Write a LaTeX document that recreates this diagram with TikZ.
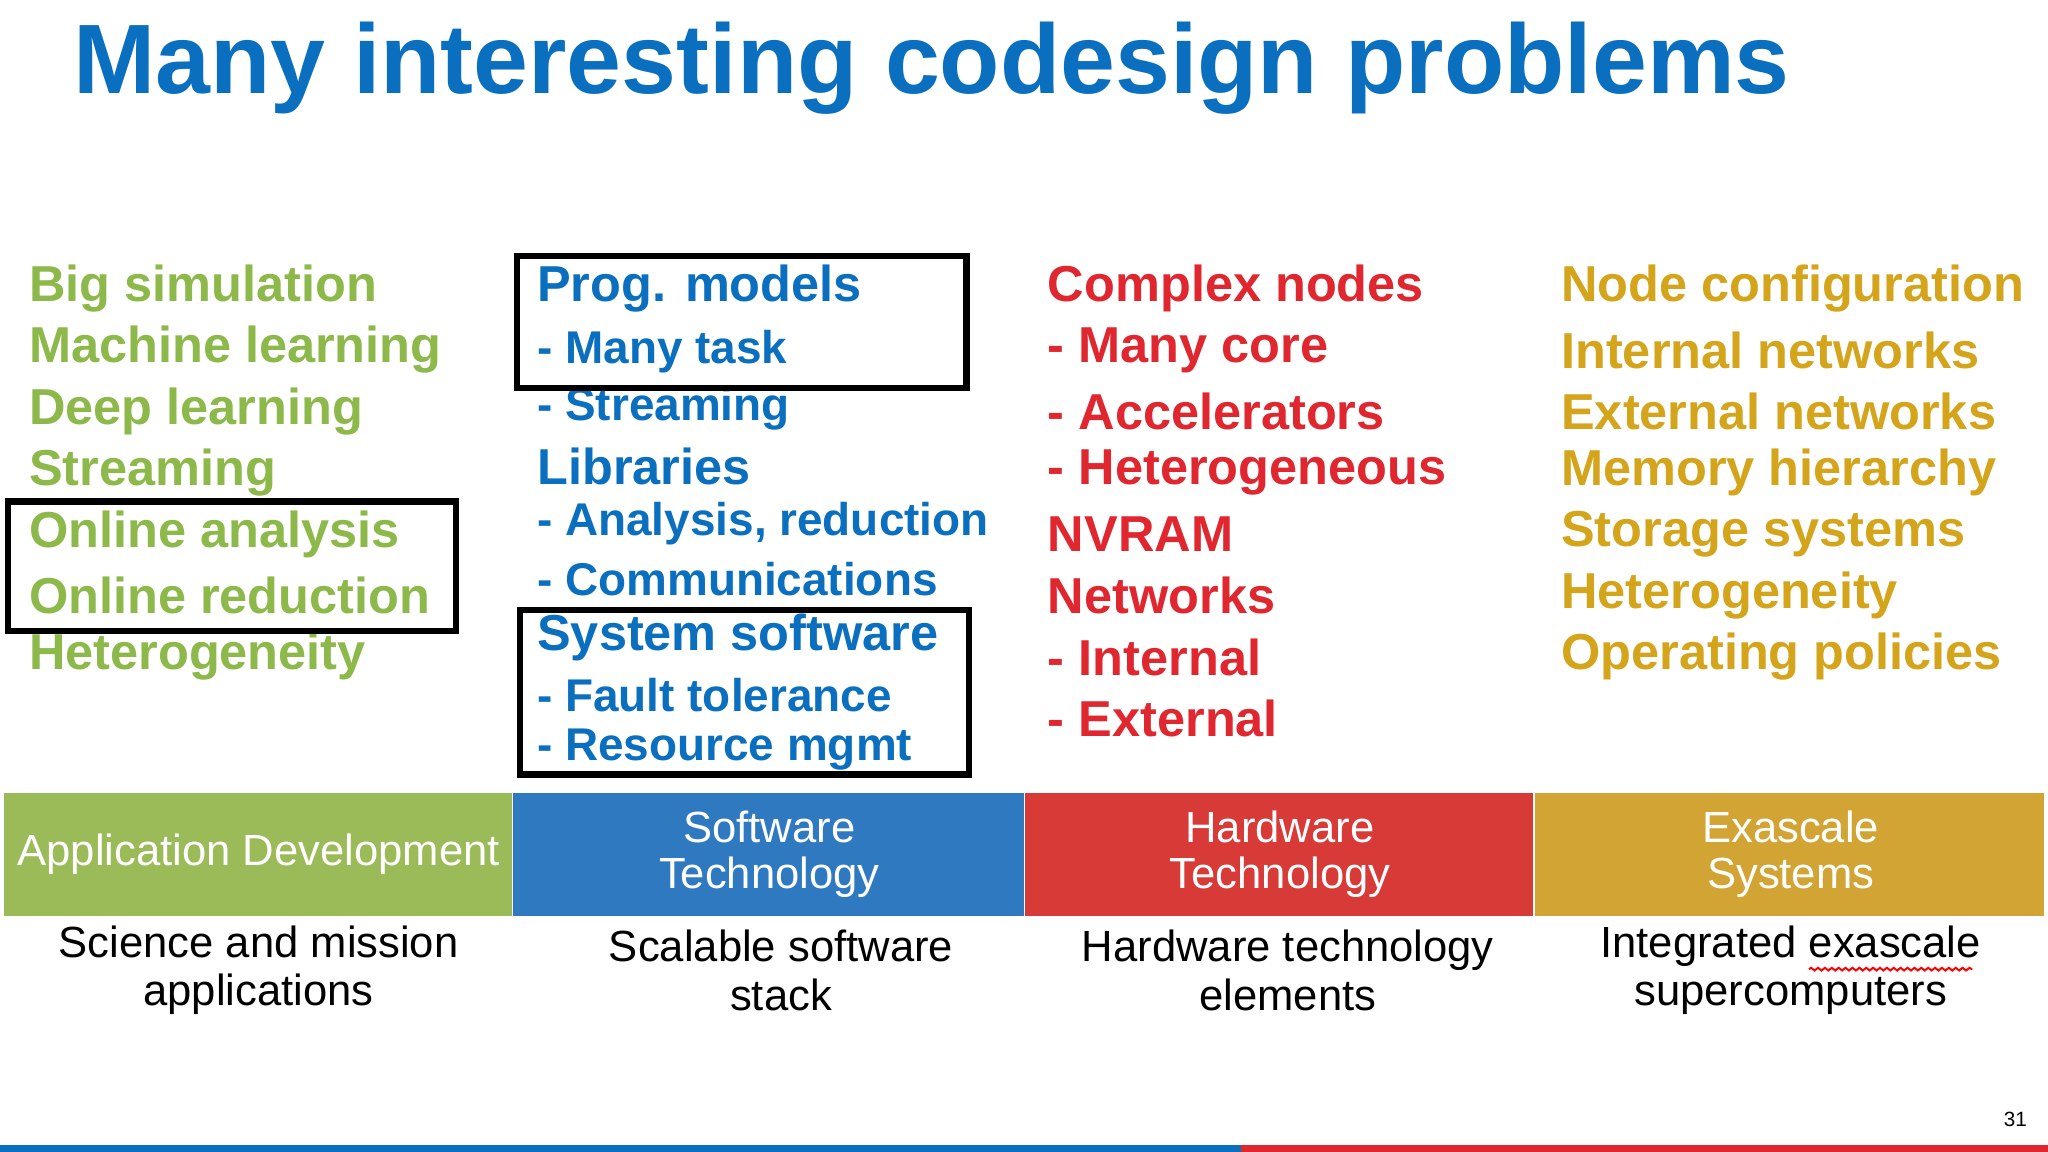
\documentclass[tikz,border=0pt]{standalone}
\usepackage{fontspec}
\setmainfont{Liberation Sans}
\usetikzlibrary{decorations.pathmorphing}
\definecolor{cgreen}{HTML}{8DB84A}
\definecolor{cblue}{HTML}{0B6FBF}
\definecolor{cred}{HTML}{E0262E}
\definecolor{cgold}{HTML}{D4A41A}
\definecolor{bgreen}{HTML}{9BBB59}
\definecolor{bblue}{HTML}{2F79C1}
\definecolor{bred}{HTML}{D83A37}
\definecolor{bgold}{HTML}{D2A434}
\tikzset{
 item/.style={anchor=west,inner sep=0pt,font=\fontsize{22}{24}\selectfont\bfseries},
 frame/.style={draw=black,line width=0.1cm},
 bartext/.style={text=white,font=\fontsize{19}{20}\selectfont,align=center},
 captext/.style={font=\fontsize{19}{21}\selectfont,align=center,text=black}
}
\begin{document}
\begin{tikzpicture}[x=0.02cm,y=-0.02cm]
\useasboundingbox (0,0) rectangle (1568,882);
\fill[white] (0,0) rectangle (1568,882);
\node[anchor=west,inner sep=0pt,text=cblue,font=\fontsize{43}{45}\selectfont\bfseries] (title) at (56,52) {Many interesting codesign problems};
% green column
\foreach \t [count=\i] in {Big simulation,Machine learning,Deep learning,Streaming,Online analysis,Online reduction,Heterogeneity}
 \node[item,text=cgreen] (g\i) at (22,{221+47*(\i-1)}) {\t};
% blue column
\node[item,text=cblue] (b1) at (411,221) {Prog. models};
\node[item,text=cblue,font=\fontsize{20}{22}\selectfont\bfseries] (b2) at (411,269) {- Many task};
\node[item,text=cblue,font=\fontsize{20}{22}\selectfont\bfseries] (b3) at (411,313) {- Streaming};
\node[item,text=cblue] (b4) at (411,357) {Libraries};
\node[item,text=cblue,font=\fontsize{20}{22}\selectfont\bfseries] (b5) at (411,401) {- Analysis, reduction};
\node[item,text=cblue,font=\fontsize{20}{22}\selectfont\bfseries] (b6) at (411,443) {- Communications};
\node[item,text=cblue] (b7) at (411,488) {System software};
\node[item,text=cblue,font=\fontsize{20}{22}\selectfont\bfseries] (b8) at (411,532) {- Fault tolerance};
\node[item,text=cblue,font=\fontsize{20}{22}\selectfont\bfseries] (b9) at (411,574) {- Resource mgmt};
% red column
\foreach \t [count=\i] in {Complex nodes,- Many core,- Accelerators,- Heterogeneous,NVRAM,Networks,- Internal,- External}
 \node[item,text=cred] (r\i) at (802,{221+47*(\i-1)}) {\t};
% gold column
\foreach \t [count=\i] in {Node configuration,Internal networks,External networks,Memory hierarchy,Storage systems,Heterogeneity,Operating policies}
 \node[item,text=cgold] (y\i) at (1195,{221+47*(\i-1)}) {\t};
% frames
\draw[frame] (396,196) rectangle (740,297);
\draw[frame] (6,384) rectangle (349,483);
\draw[frame] (398,467) rectangle (742,593);
% bars
\fill[bgreen] (3,607) rectangle (392,701);
\fill[bblue] (393,607) rectangle (784,701);
\fill[bred] (785,607) rectangle (1174,701);
\fill[bgold] (1175,607) rectangle (1565,701);
\node[bartext] (h1) at (198,654) {Application Development};
\node[bartext] (h2) at (589,654) {Software\\Technology};
\node[bartext] (h3) at (980,654) {Hardware\\Technology};
\node[bartext] (h4) at (1371,654) {Exascale\\Systems};
\node[captext] (c1) at (198,743) {Science and mission\\applications};
\node[captext] (c2) at (598,743) {Scalable software\\stack};
\node[captext] (c3) at (986,743) {Hardware technology\\elements};
\node[captext] (c4) at (1371,743) {Integrated exascale\\supercomputers};
\draw[red,line width=0.03cm,decorate,decoration={snake,amplitude=0.6pt,segment length=3pt}] (1385,742) -- (1510,742);
% bottom rule
\fill[cblue] (0,877) rectangle (950,882);
\fill[cred] (950,877) rectangle (1568,882);
\node[font=\fontsize{9}{10}\selectfont,inner sep=0pt] (pg) at (1543,857) {31};
\end{tikzpicture}
\end{document}
